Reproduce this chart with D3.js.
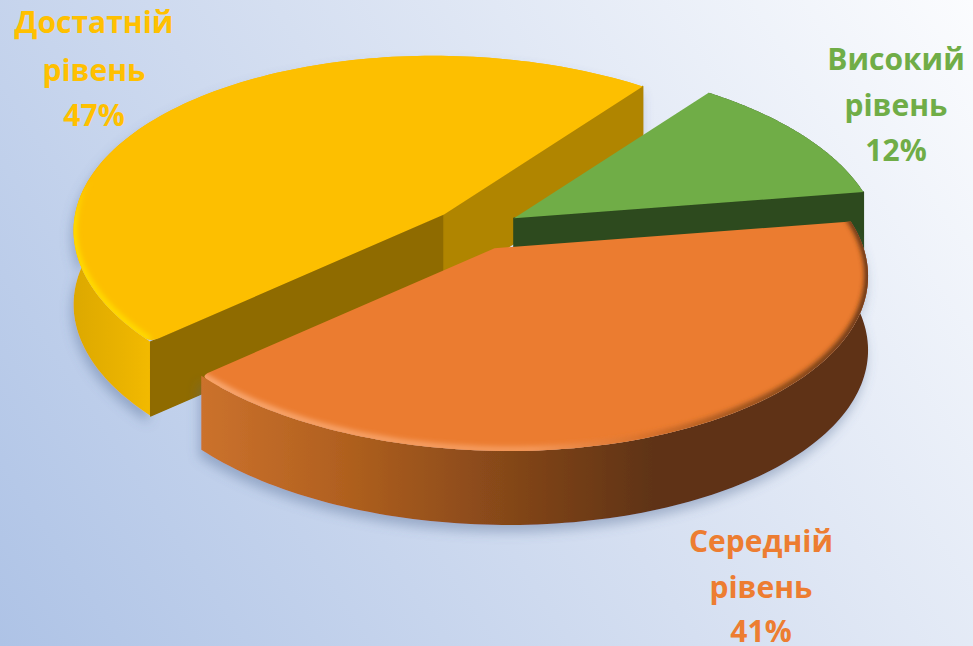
<!DOCTYPE html>
<meta charset="utf-8">
<style>
html, body { margin: 0; padding: 0; background: #dde5f4; }
svg { display: block; }
text {
  font-family: "Open Sans", "Noto Sans", sans-serif;
  font-weight: 700;
  font-size: 30px;
  text-anchor: middle;
}
</style>
<svg width="973" height="646"></svg>
<script src="https://d3js.org/d3.v7.min.js"></script>
<script>

var categories = ["Високий", "Середній", "Достатній"];
var levelWord = "рівень";
var values = [12, 41, 47];
var colors = ["#70AD47", "#EB7C30", "#FDBF00"];
var labelColors = ["#70AD47", "#ED7D31", "#FFC000"];
// start face, end face of each slice. null = faces away from us
var cutWallColors = [[null, "#2D4A1E"], [null, null], ["#8F6B00", "#B08500"]];

var svg = d3.select("svg"),
	width = +svg.attr("width"),
	height = +svg.attr("height");

// pie geometry, the disc is tilted and the far side is a bit smaller
var cx = 476, cy = 229,
	radii = [362, 369, 369], squash = 178 / 369, persp = 0.122, skew = 12,
	explode = 44, depth = 74;

var rad = Math.PI / 180;

var pie = d3.pie().sort(null).startAngle(38 * rad).endAngle(398 * rad);
var slices = pie(values);

slices.forEach(function(d, i) {
	var mid = (d.startAngle + d.endAngle) / 2;
	d.ax = cx + explode * Math.sin(mid);
	d.ay = cy - explode * squash * Math.cos(mid);
	d.radius = radii[i];
});

function rim(d, a) {
	var f = 1 / (1 + persp * Math.cos(a));
	return [
		d.ax + (d.radius * Math.sin(a) - skew * Math.cos(a)) * f,
		d.ay - d.radius * squash * Math.cos(a) * f
	];
}

function arcPoints(d, a0, a1) {
	return d3.range(0, 121).map(function(i) { return rim(d, a0 + (a1 - a0) * i / 120); });
}

function down(p) { return [p[0], p[1] + depth]; }

// point on the cut edge, some pixels in from the rim corner
function towards(p, q, dist) {
	var len = Math.hypot(q[0] - p[0], q[1] - p[1]);
	return [p[0] + (q[0] - p[0]) * dist / len, p[1] + (q[1] - p[1]) * dist / len];
}

var line = d3.line();

var defs = svg.append("defs");

function gradient(id, x1, y1, x2, y2, stops) {
	var g = defs.append("linearGradient")
		.attr("id", id)
		.attr("gradientUnits", "userSpaceOnUse")
		.attr("x1", x1).attr("y1", y1).attr("x2", x2).attr("y2", y2);
	stops.forEach(function(s) {
		g.append("stop").attr("offset", s[0]).attr("stop-color", s[1]).attr("stop-opacity", s[2] === undefined ? 1 : s[2]);
	});
}

gradient("bg", 0, 646, 973, 0, [[0, "#AEC3E6"], [0.5, "#D5DFF1"], [1, "#FBFCFE"]]);
gradient("wall0", 500, 0, 880, 0, [[0, "#3A5F27"], [1, "#2D4A1E"]]);
gradient("wall1", 197, 0, 868, 0, [[0, "#CC722D"], [0.22, "#B0601F"], [0.5, "#7E4318"], [0.68, "#5F3312"], [1, "#5F3312"]]);
gradient("wall2", 76, 0, 155, 0, [[0, "#DDA900"], [0.6, "#EAB300"], [1, "#F4BB00"]]);
gradient("rim1", 197, 0, 868, 0, [[0, "#F9A871"], [0.5, "#F59A5C"], [0.66, "#D9722C"], [0.85, "#8A4A1A"], [1, "#5F3312"]]);
gradient("rim2", 0, 180, 0, 340, [[0, "#FFDD00", 0], [0.25, "#FFDD00"], [1, "#FFDA00"]]);

var shadow = defs.append("filter").attr("id", "shadow")
	.attr("x", "-10%").attr("y", "-10%").attr("width", "120%").attr("height", "130%");
shadow.append("feDropShadow")
	.attr("dx", -2).attr("dy", 7).attr("stdDeviation", 6)
	.attr("flood-color", "#51688F").attr("flood-opacity", 0.4);

defs.append("filter").attr("id", "soft")
	.attr("x", "-5%").attr("y", "-5%").attr("width", "110%").attr("height", "110%")
	.append("feGaussianBlur").attr("stdDeviation", 2.6);

svg.append("rect").attr("width", width).attr("height", height).attr("fill", "url(#bg)");

// back to front: yellow, green, orange
var order = [2, 0, 1];
var rimAngles = {1: [78, 229], 2: [229, 296]};

order.forEach(function(i) {
	var d = slices[i];
	var g = svg.append("g");
	var arc = arcPoints(d, d.startAngle, d.endAngle);
	var apex = [d.ax, d.ay];

	// outer wall
	g.append("path")
		.attr("d", line(arc.concat(arc.map(down).reverse())) + "Z")
		.attr("fill", "url(#wall" + i + ")")
		.attr("filter", i == 0 ? null : "url(#shadow)");

	// the two cut faces
	[d.startAngle, d.endAngle].forEach(function(a, j) {
		if (!cutWallColors[i][j]) return;
		var p = rim(d, a);
		g.append("path")
			.attr("d", line([apex, p, down(p), down(apex)]) + "Z")
			.attr("fill", cutWallColors[i][j])
			.attr("stroke", cutWallColors[i][j])
			.attr("stroke-width", 1.5)
			.attr("stroke-linejoin", "round");
	});

	// top face, the corner next to the orange/yellow cut is rounded off
	var top;
	if (i == 1) {
		var c1 = arc[arc.length - 1];
		top = line([apex].concat(arc.slice(0, -1))) +
			"Q" + c1 + " " + towards(c1, apex, 9) + "Z";
	} else if (i == 2) {
		var c2 = arc[0];
		top = "M" + apex + "L" + towards(c2, apex, 9) + "Q" + c2 + " " + arc[1] +
			line(arc.slice(1)).replace("M", "L") + "Z";
	} else {
		top = line([apex].concat(arc)) + "Z";
	}
	g.append("path").attr("d", top).attr("fill", colors[i]);

	// soft bevel along the rim
	if (rimAngles[i]) {
		g.append("clipPath").attr("id", "top" + i).append("path").attr("d", top);
		g.append("g").attr("clip-path", "url(#top" + i + ")")
			.append("path")
			.attr("d", line(arcPoints(d, rimAngles[i][0] * rad, rimAngles[i][1] * rad).map(function(p) {
				return [p[0], p[1] - 1];
			})))
			.attr("fill", "none")
			.attr("stroke", "url(#rim" + i + ")")
			.attr("stroke-width", 7)
			.attr("filter", "url(#soft)");
	}
});

// labels
var labelX = [896, 761, 94];
var labelY = [[70, 116, 161], [552, 598, 642], [33, 81, 126]];

categories.forEach(function(name, i) {
	var lines = [name, levelWord, values[i] + "%"];
	svg.append("g").selectAll("text")
		.data(lines)
		.enter().append("text")
		.attr("x", labelX[i])
		.attr("y", function(t, j) { return labelY[i][j]; })
		.attr("fill", labelColors[i])
		.text(function(t) { return t; });
});
</script>
